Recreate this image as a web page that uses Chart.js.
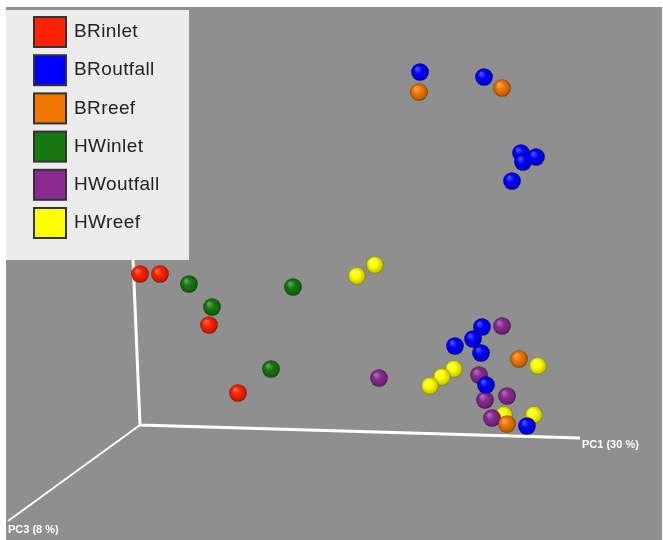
<!DOCTYPE html>
<html>
<head>
<meta charset="utf-8">
<script src="https://cdn.jsdelivr.net/npm/chart.js@4"></script>
<style>
  html, body { margin: 0; padding: 0; background: #ffffff; }
  canvas { display: block; }
</style>
</head>
<body>
<canvas id="pcoa" width="663" height="540"></canvas>
<script>
// Sample groups shown in the legend
const groups = ['BRinlet', 'BRoutfall', 'BRreef', 'HWinlet', 'HWoutfall', 'HWreef'];
const groupColors = ['#ff2200', '#0000ff', '#f07800', '#17780f', '#8a2a92', '#ffff00'];

// Projected ordination coordinates (screen-plane projection of PC1/PC2/PC3)
const brInletX   = [140, 160, 209, 238];
const brInletY   = [274, 274, 325, 393];
const brOutfallX = [420, 484, 521, 523, 536, 512, 482, 473, 455, 481, 486, 527];
const brOutfallY = [72, 77, 153, 162, 157, 181, 327, 339, 346, 353, 385, 426];
const brReefX    = [419, 502, 519, 507];
const brReefY    = [92, 88, 359, 424];
const hwInletX   = [189, 212, 293, 271];
const hwInletY   = [284, 307, 287, 369];
const hwOutfallX = [379, 502, 479, 507, 485, 492];
const hwOutfallY = [378, 326, 375, 396, 400, 418];
const hwReefX    = [357, 375, 538, 454, 442, 430, 504, 534];
const hwReefY    = [276, 265, 366, 369, 377, 386, 415, 415];

// Axis triad (origin, PC1 end, PC2 end, PC3 end) and axis titles
const axisOrigin = { x: 140, y: 425 };
const axisPC1End = { x: 580, y: 438 };
const axisPC2End = { x: 133, y: 258 };
const axisPC3End = { x: 8, y: 521 };
const axisTitles = ['PC1 (30 %)', 'PC3 (8 %)'];

const groupX = [brInletX, brOutfallX, brReefX, hwInletX, hwOutfallX, hwReefX];
const groupY = [brInletY, brOutfallY, brReefY, hwInletY, hwOutfallY, hwReefY];

// Shaded sphere sprites, cached by colour and radius
const spriteCache = {};
function shade(hex, f) {
  const n = parseInt(hex.slice(1), 16);
  let r = (n >> 16) & 255, g = (n >> 8) & 255, b = n & 255;
  if (f >= 0) { r += (255 - r) * f; g += (255 - g) * f; b += (255 - b) * f; }
  else { r *= 1 + f; g *= 1 + f; b *= 1 + f; }
  return 'rgb(' + Math.round(r) + ',' + Math.round(g) + ',' + Math.round(b) + ')';
}
function sphere(color, radius) {
  const key = color + radius;
  if (spriteCache[key]) return spriteCache[key];
  const s = Math.ceil(radius * 2 + 2);
  const c = document.createElement('canvas');
  c.width = s; c.height = s;
  const g = c.getContext('2d');
  const cx = s / 2, cy = s / 2;
  const grad = g.createRadialGradient(cx - radius * 0.35, cy - radius * 0.4, radius * 0.1, cx, cy, radius);
  grad.addColorStop(0, shade(color, 0.3));
  grad.addColorStop(0.4, color);
  grad.addColorStop(0.85, shade(color, -0.2));
  grad.addColorStop(1, shade(color, -0.5));
  g.fillStyle = grad;
  g.beginPath();
  g.arc(cx, cy, radius, 0, Math.PI * 2);
  g.fill();
  spriteCache[key] = c;
  return c;
}

const pointDatasets = groups.map((name, i) => ({
  type: 'scatter',
  label: name,
  data: groupX[i].map((x, k) => ({ x: x, y: groupY[i][k] })),
  pointStyle: sphere(groupColors[i], 8.8),
  backgroundColor: groupColors[i],
  order: 1
}));

const axisDatasets = [
  {
    type: 'line',
    label: 'axes',
    data: [axisPC2End, axisOrigin, axisPC1End],
    borderColor: '#ffffff',
    borderWidth: 3,
    pointRadius: 0,
    fill: false,
    tension: 0,
    order: 5
  },
  {
    type: 'line',
    label: 'axes3',
    data: [axisOrigin, axisPC3End],
    borderColor: '#ffffff',
    borderWidth: 2,
    pointRadius: 0,
    fill: false,
    tension: 0,
    order: 5
  }
];

// Plot backdrop, axis titles and legend panel
const decor = {
  id: 'decor',
  beforeDraw(chart) {
    const ctx = chart.ctx;
    ctx.save();
    ctx.fillStyle = '#ffffff';
    ctx.fillRect(0, 0, chart.width, chart.height);
    ctx.fillStyle = '#8f8f8f';
    ctx.fillRect(6, 7, chart.width - 7, chart.height - 7);
    ctx.restore();
  },
  afterDatasetsDraw(chart) {
    const ctx = chart.ctx;
    const xs = chart.scales.x, ys = chart.scales.y;
    ctx.save();
    // axis titles
    ctx.fillStyle = '#ffffff';
    ctx.font = 'bold 11px "Liberation Sans", Arial, sans-serif';
    ctx.textBaseline = 'middle';
    ctx.textAlign = 'left';
    ctx.fillText(axisTitles[0], xs.getPixelForValue(axisPC1End.x) + 2, ys.getPixelForValue(axisPC1End.y) + 7);
    ctx.fillText(axisTitles[1], xs.getPixelForValue(axisPC3End.x), ys.getPixelForValue(axisPC3End.y) + 9);

    // legend panel
    ctx.fillStyle = '#ececec';
    ctx.fillRect(6, 10, 183, 250);
    ctx.font = '19px "Liberation Sans", Arial, sans-serif';
    ctx.letterSpacing = '0.4px';
    groups.forEach((name, i) => {
      const top = 16 + i * 38.2;
      ctx.fillStyle = '#333333';
      ctx.fillRect(33, top, 34, 32);
      ctx.fillStyle = groupColors[i];
      ctx.fillRect(35, top + 2, 30, 28);
      ctx.fillStyle = '#222222';
      ctx.textAlign = 'left';
      ctx.fillText(name, 74, top + 16);
    });
    ctx.restore();
  }
};

new Chart(document.getElementById('pcoa'), {
  type: 'scatter',
  data: { datasets: axisDatasets.concat(pointDatasets) },
  options: {
    responsive: false,
    animation: false,
    devicePixelRatio: 1,
    layout: { padding: 0, autoPadding: false },
    plugins: { legend: { display: false }, tooltip: { enabled: false } },
    scales: {
      x: { type: 'linear', min: 0, max: 663, display: false },
      y: { type: 'linear', min: 0, max: 540, reverse: true, display: false }
    }
  },
  plugins: [decor]
});
</script>
</body>
</html>
